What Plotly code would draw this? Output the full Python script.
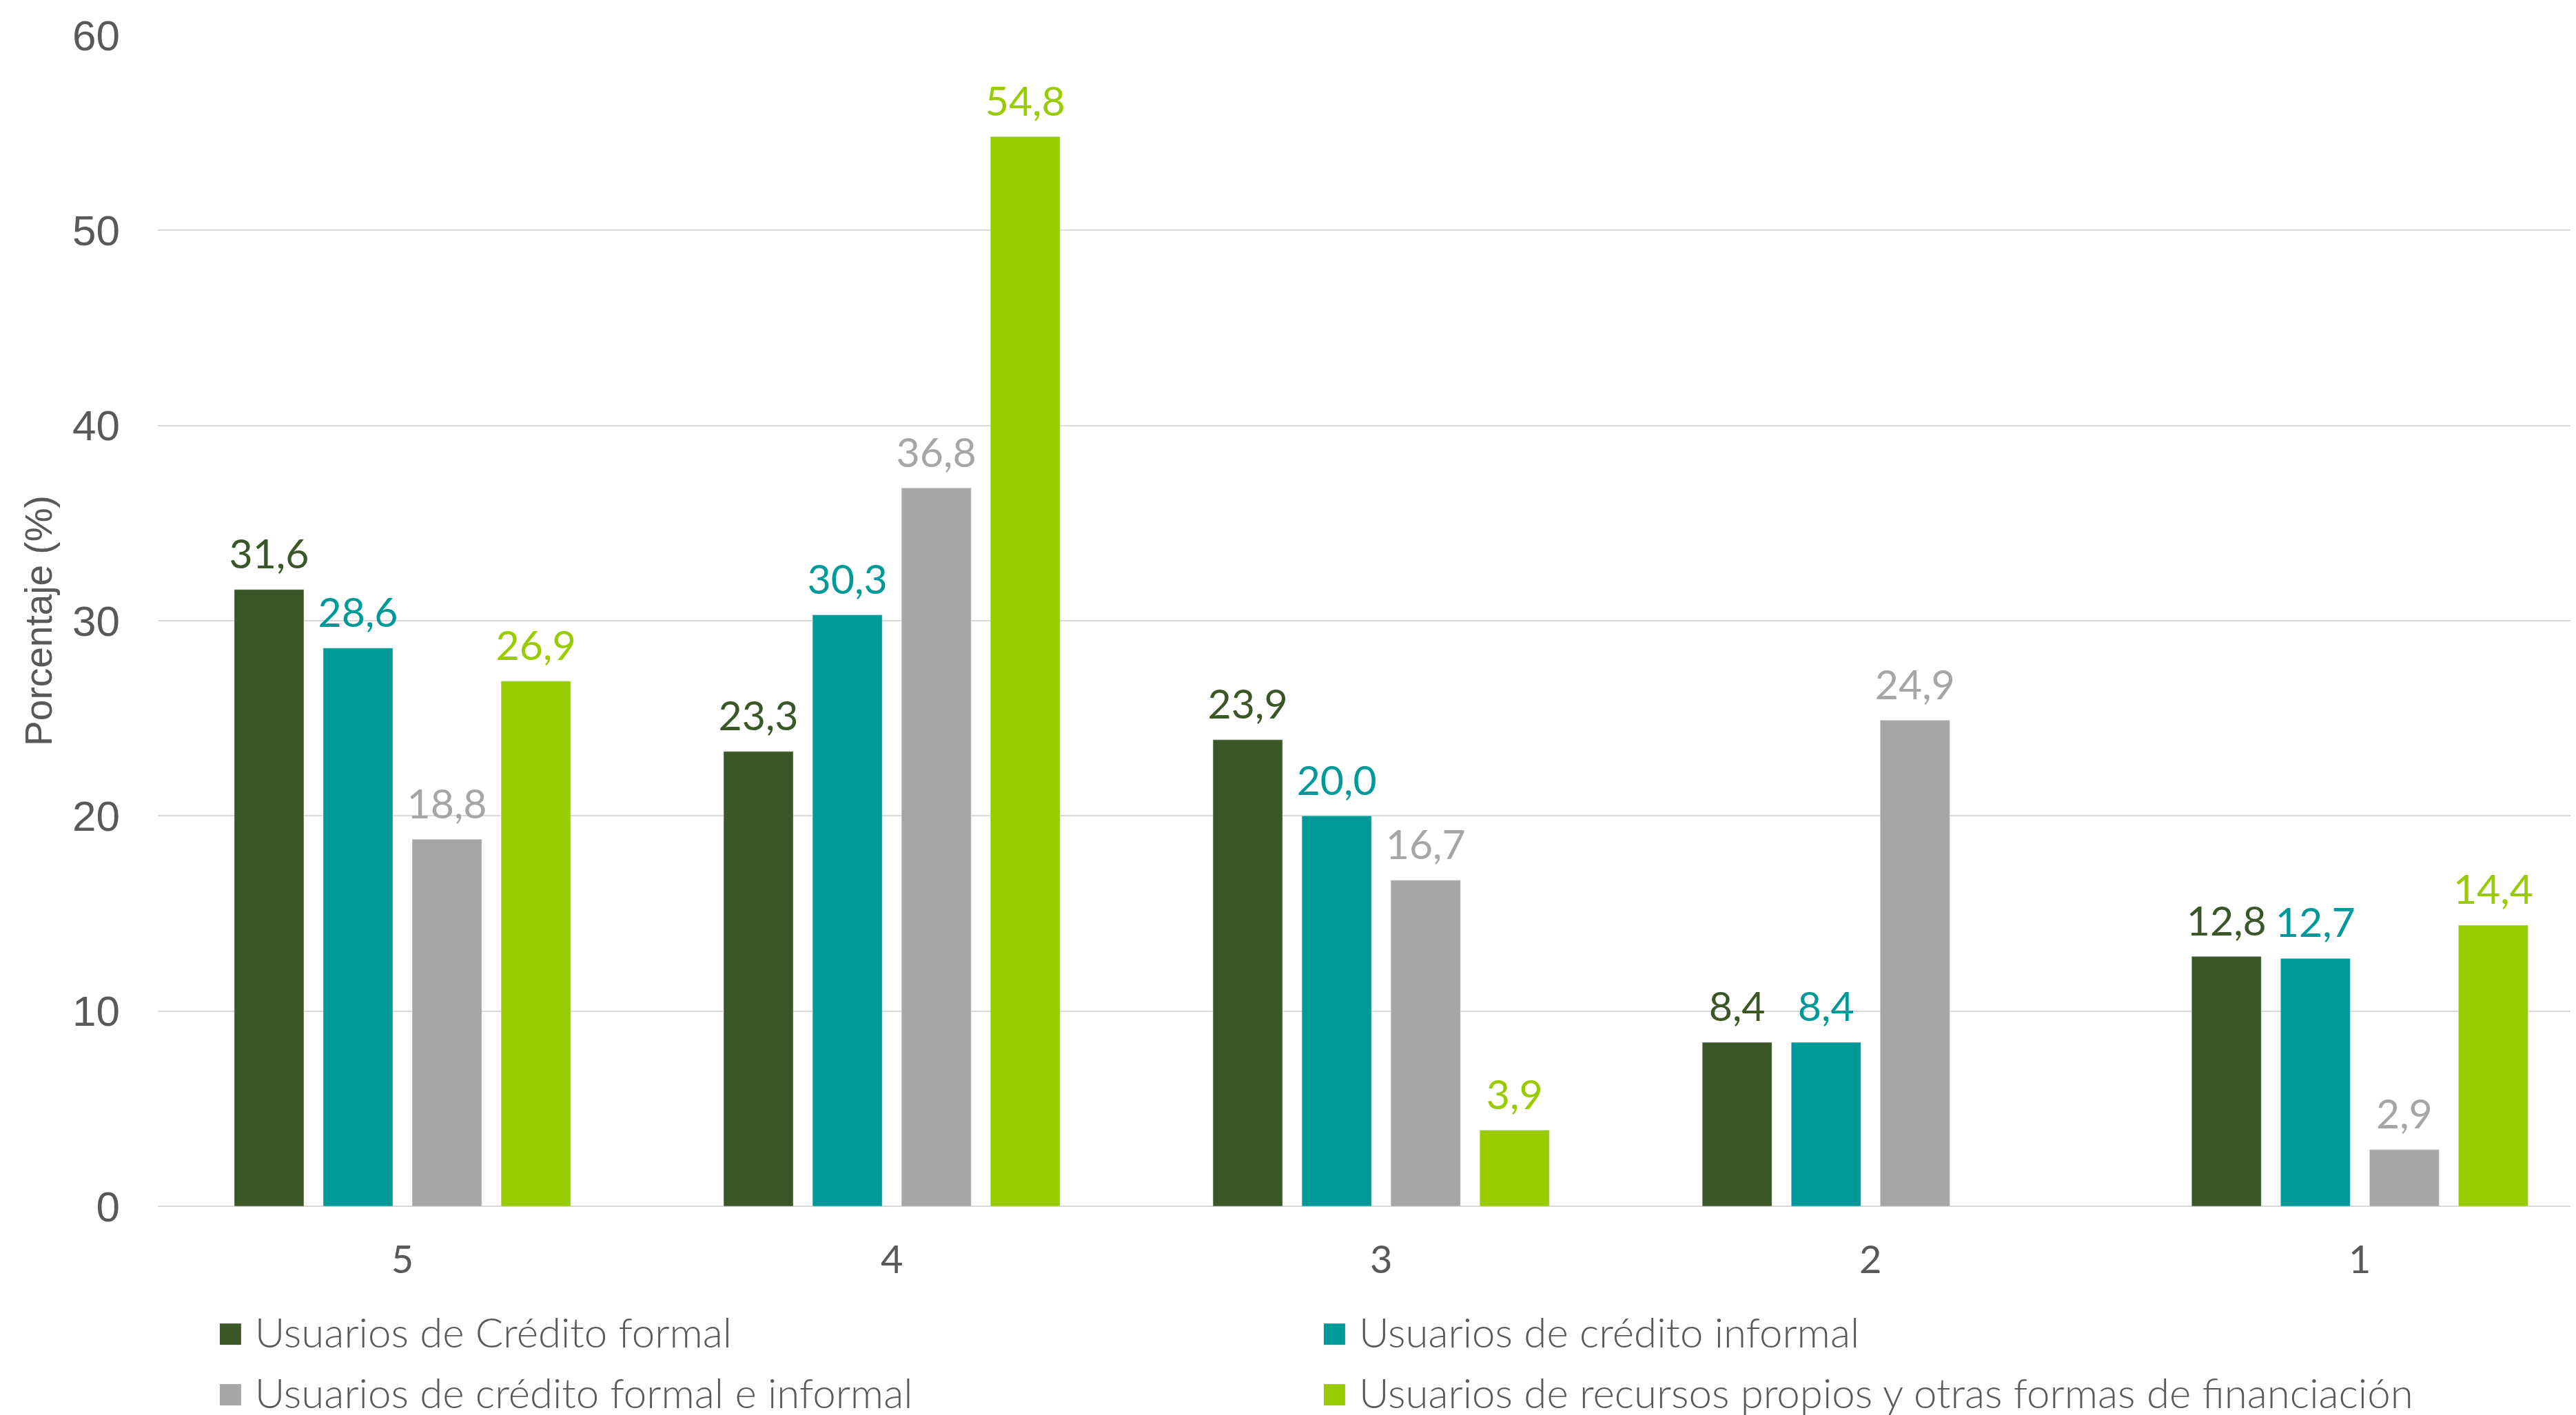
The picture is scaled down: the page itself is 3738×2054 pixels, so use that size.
import plotly.graph_objects as go

categories = ["5", "4", "3", "2", "1"]
series_names = [
    "Usuarios de Crédito formal",
    "Usuarios de crédito informal",
    "Usuarios de crédito formal e informal",
    "Usuarios de recursos propios y otras formas de financiación",
]
formal = [31.6, 23.3, 23.9, 8.4, 12.8]
informal = [28.6, 30.3, 20.0, 8.4, 12.7]
formal_informal = [18.8, 36.8, 16.7, 24.9, 2.9]
propios = [26.9, 54.8, 3.9, None, 14.4]
colors = ["#3B5727", "#009999", "#A6A6A6", "#99CC00"]
y_ticks = [0, 10, 20, 30, 40, 50, 60]

values = [formal, informal, formal_informal, propios]
legend_ids = ["legend", "legend2", "legend3", "legend4"]

fig = go.Figure()
for i, (name, vals, col) in enumerate(zip(series_names, values, colors)):
    fig.add_trace(go.Bar(
        x=categories, y=vals, name=name, marker_color=col,
        showlegend=False, offsetgroup=f"g{i}", alignmentgroup="main",
    ))

# value labels, aligned with the bars
for i, (name, vals, col) in enumerate(zip(series_names, values, colors)):
    fig.add_trace(go.Scatter(
        x=categories, y=vals, mode="markers+text", name=name,
        marker=dict(size=24, opacity=0, color=col),
        texttemplate="%{y:.1f}", textposition="top center",
        textfont=dict(family="Lato", size=59, color=col),
        cliponaxis=False, showlegend=False, hoverinfo="skip",
        offsetgroup=f"g{i}", alignmentgroup="main",
    ))

# legend entries with large square glyphs
for name, col, lg in zip(series_names, colors, legend_ids):
    fig.add_trace(go.Scatter(
        x=[None], y=[None], mode="lines", line=dict(width=0, color=col),
        name=f"<span style='font-family:DejaVu Sans;font-size:64px;color:{col}'>■</span> {name}",
        showlegend=True, legend=lg, alignmentgroup="leg", offsetgroup="leg",
    ))

legend_common = dict(
    orientation="h", xanchor="left", yanchor="middle",
    xref="container", yref="container",
    font=dict(family="Lato", size=60, color="#595959", weight=300),
    itemwidth=30, bgcolor="rgba(0,0,0,0)",
)

fig.update_layout(
    width=3738, height=2054,
    margin=dict(l=221, r=0, t=43, b=311),
    plot_bgcolor="white", paper_bgcolor="white",
    separators=",.",
    barmode="group", bargap=0.273, bargroupgap=0.217,
    scattermode="group", scattergap=0.273,
    font=dict(family="Lato", color="#595959"),
    legend=dict(x=0.0714, y=0.0628, **legend_common),
    legend2=dict(x=0.5, y=0.0628, **legend_common),
    legend3=dict(x=0.0714, y=0.0204, **legend_common),
    legend4=dict(x=0.5, y=0.0204, **legend_common),
    xaxis=dict(
        type="category", range=[-0.5, 4.453],
        tickfont=dict(family="Lato", size=56, color="#595959"),
        showline=False, showgrid=False, ticks="", ticklabelstandoff=40,
    ),
    yaxis=dict(
        range=[0, 60], tickvals=y_ticks,
        tickfont=dict(family="Liberation Sans", size=62, color="#595959"),
        showgrid=True, gridcolor="#D9D9D9", gridwidth=2,
        zeroline=True, zerolinecolor="#D9D9D9", zerolinewidth=2,
        ticks="", ticklabelstandoff=54,
        title=dict(text="Porcentaje (%)", font=dict(family="Liberation Sans", size=55, color="#595959"), standoff=11),
    ),
)

fig.write_html("out.html")
